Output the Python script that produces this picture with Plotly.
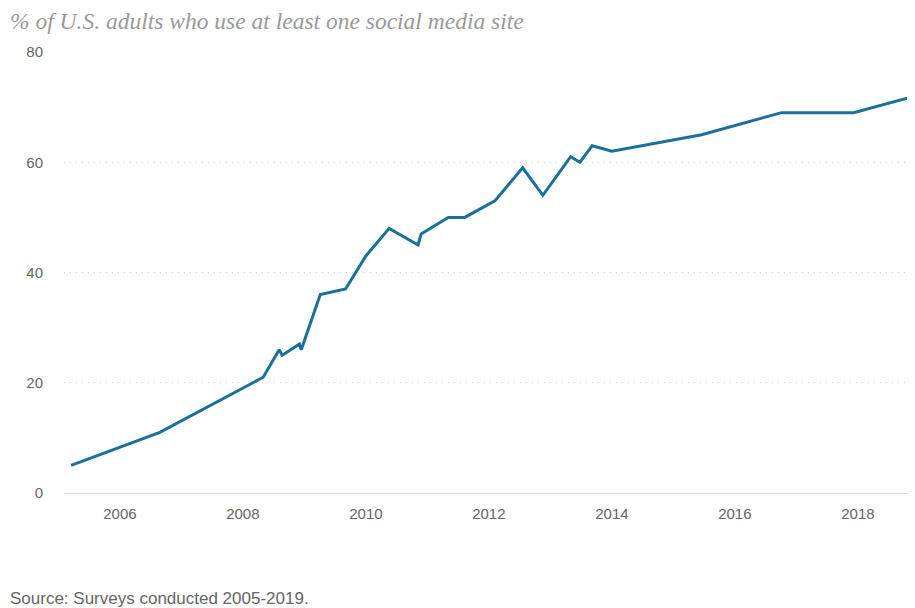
import plotly.graph_objects as go

# Survey dates and share of U.S. adults using at least one social media site
dates = [
    "2005-03-17", "2006-08-26", "2008-05-01", "2008-08-04", "2008-08-22",
    "2008-12-02", "2008-12-13", "2009-04-05", "2009-09-02", "2010-01-01",
    "2010-05-19", "2010-11-07", "2010-11-25", "2011-05-05", "2011-08-11",
    "2012-02-06", "2012-07-20", "2012-11-17", "2013-05-01", "2013-06-25",
    "2013-09-06", "2014-01-01", "2015-06-18", "2016-10-05", "2017-12-06",
    "2018-12-06",
]
values = [
    5, 11, 21, 26, 25,
    27, 26, 36, 37, 43,
    48, 45, 47, 50, 50,
    53, 59, 54, 61, 60,
    63, 62, 65, 69, 69,
    72,
]
y_ticks = [0, 20, 40, 60, 80]

title_text = "% of U.S. adults who use at least one social media site"
source_text = "Source: Surveys conducted 2005-2019."

# page body adds an 8px offset, so the figure is sized to fit the window
OFF = 8
W, H = 915 - OFF, 608 - OFF
ML, MR, MT = 64 - OFF, 0, 52 - OFF
MB = H - (493 - OFF)
pw = W - ML - MR
ph = H - MT - MB

fig = go.Figure()
fig.add_trace(go.Scatter(
    x=dates, y=values, mode="lines",
    line=dict(color="#1b6f9d", width=3),
    hoverinfo="x+y", showlegend=False,
))

tick_font = dict(family="Liberation Sans, Arial, sans-serif", size=15, color="#666666")

fig.update_layout(
    width=W, height=H,
    margin=dict(l=ML, r=MR, t=MT, b=MB),
    paper_bgcolor="white", plot_bgcolor="white",
    title=dict(
        text=title_text,
        font=dict(family="Liberation Serif, Georgia, serif", size=23.5, color="#9a9a9a",
                  style="italic"),
        xref="container", yref="container",
        x=(10 - OFF) / W, xanchor="left",
        y=1 - (21 - OFF) / H, yanchor="middle",
    ),
    xaxis=dict(
        type="date",
        range=["2005-02-03", "2018-12-06"],
        tick0="2006-01-01", dtick="M24", tickformat="%Y",
        showgrid=False, zeroline=False,
        showline=True, linecolor="#ccd6eb", linewidth=1,
        ticks="", ticklabelstandoff=7,
        tickfont=tick_font,
    ),
    yaxis=dict(
        range=[0, 80],
        tickvals=y_ticks,
        showgrid=True, gridcolor="#cfcfcf", gridwidth=1, griddash="1px,5px",
        zeroline=False, showline=False,
        ticks="", ticklabelstandoff=20,
        tickfont=tick_font,
    ),
    annotations=[dict(
        text=source_text,
        xref="paper", yref="paper",
        x=(8 - OFF - ML) / pw, xanchor="left",
        y=(H - MB - (598 - OFF)) / ph, yanchor="middle",
        showarrow=False,
        font=dict(family="Liberation Sans, Arial, sans-serif", size=17, color="#666666"),
    )],
)

fig.write_html("out.html")
